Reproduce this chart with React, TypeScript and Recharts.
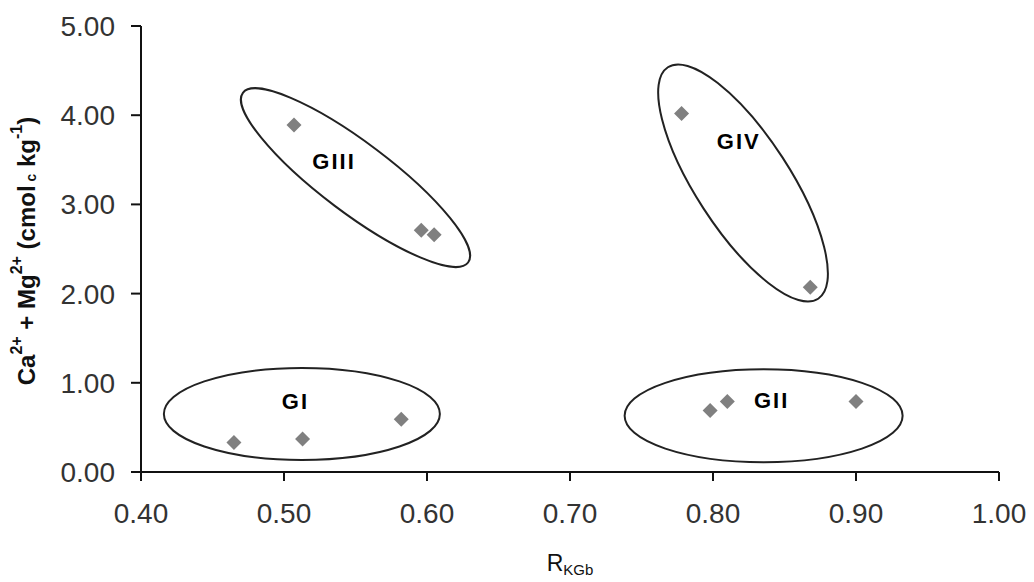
import { ScatterChart, Scatter, XAxis, YAxis, ReferenceDot } from "recharts";

// measured points: R_KGb vs Ca2+ + Mg2+
const rKGb = [0.465, 0.513, 0.582, 0.798, 0.81, 0.9, 0.507, 0.596, 0.605, 0.778, 0.868];
const caMg = [0.33, 0.37, 0.59, 0.69, 0.79, 0.79, 3.89, 2.71, 2.66, 4.02, 2.07];

const groupNames = ["GI", "GII", "GIII", "GIV"];
const groupCenterX = [0.5125, 0.8354, 0.55, 0.821];
const groupCenterY = [0.651, 0.631, 3.3, 3.24];
const groupLabelX = [0.508, 0.841, 0.535, 0.818];
const groupLabelY = [0.786, 0.805, 3.48, 3.7];

const xTicks = [0.4, 0.5, 0.6, 0.7, 0.8, 0.9, 1.0];
const yTicks = [0, 1, 2, 3, 4, 5];

// ring outlines (pixels) drawn round each group centre
const rings = [
  { rx: 138, ry: 46, angle: 0 },
  { rx: 139, ry: 46.5, angle: 0 },
  { rx: 141, ry: 35, angle: 37 },
  { rx: 138, ry: 47, angle: 57 },
];

const points = rKGb.map((x, i) => ({ x, y: caMg[i] }));

const FONT = "'Liberation Sans', Arial, sans-serif";

const Diamond = (props: any) => {
  const { cx, cy } = props;
  const h = 7.5;
  return (
    <polygon
      points={`${cx},${cy - h} ${cx + h},${cy} ${cx},${cy + h} ${cx - h},${cy}`}
      fill="#808080"
    />
  );
};

const YTitle = (props: any) => {
  const vb = props.viewBox || { x: 51, y: 26, width: 90, height: 446 };
  const cx = 26;
  const cy = vb.y + vb.height / 2 + 2;
  return (
    <text
      x={cx}
      y={cy}
      transform={`rotate(-90 ${cx} ${cy})`}
      textAnchor="middle"
      dominantBaseline="central"
      fontFamily={FONT}
      fontWeight="bold"
      fontSize={24}
      fill="#111"
    >
      Ca
      <tspan fontSize={16} dy={-10}>2+</tspan>
      <tspan dy={10}> + Mg</tspan>
      <tspan fontSize={16} dy={-10}>2+</tspan>
      <tspan dy={10}> (cmol</tspan>
      <tspan fontSize={14} dy={5}> c</tspan>
      <tspan dy={-5}> kg</tspan>
      <tspan fontSize={16} dy={-10}>-1</tspan>
      <tspan dy={10}>)</tspan>
    </text>
  );
};

const XTitle = (props: any) => {
  const vb = props.viewBox || { x: 141, y: 472, width: 858, height: 60 };
  const cx = vb.x + vb.width / 2;
  return (
    <text x={cx} y={571} textAnchor="middle" fontFamily={FONT} fontSize={23} fill="#111">
      R
      <tspan fontSize={15} dy={4}>KGb</tspan>
    </text>
  );
};

const App = () => {
  return (
    <div style={{ position: "absolute", left: 0, top: 0, background: "#fff" }}>
      <ScatterChart
        width={1034}
        height={582}
        margin={{ top: 26, right: 35, bottom: 50, left: 51 }}
      >
        <XAxis
          type="number"
          dataKey="x"
          domain={[0.4, 1.0]}
          ticks={xTicks}
          tickFormatter={(v: number) => v.toFixed(2)}
          height={60}
          tickSize={9}
          tickMargin={22}
          axisLine={{ stroke: "#111", strokeWidth: 2 }}
          tickLine={{ stroke: "#111", strokeWidth: 2 }}
          tick={{ fill: "#333", fontSize: 28, fontFamily: FONT }}
          label={<XTitle />}
        />
        <YAxis
          type="number"
          dataKey="y"
          domain={[0, 5]}
          ticks={yTicks}
          tickFormatter={(v: number) => v.toFixed(2)}
          width={90}
          tickSize={10}
          tickMargin={16}
          axisLine={{ stroke: "#111", strokeWidth: 2 }}
          tickLine={{ stroke: "#111", strokeWidth: 2 }}
          tick={{ fill: "#333", fontSize: 28, fontFamily: FONT }}
          label={<YTitle />}
        />
        {groupNames.map((name, i) => (
          <ReferenceDot
            key={`ring-${name}`}
            x={groupCenterX[i]}
            y={groupCenterY[i]}
            ifOverflow="visible"
            shape={(p: any) => (
              <ellipse
                cx={p.cx}
                cy={p.cy}
                rx={rings[i].rx}
                ry={rings[i].ry}
                transform={`rotate(${rings[i].angle} ${p.cx} ${p.cy})`}
                fill="none"
                stroke="#222"
                strokeWidth={2}
              />
            )}
          />
        ))}
        {groupNames.map((name, i) => (
          <ReferenceDot
            key={`label-${name}`}
            x={groupLabelX[i]}
            y={groupLabelY[i]}
            ifOverflow="visible"
            shape={(p: any) => (
              <text
                x={p.cx}
                y={p.cy}
                textAnchor="middle"
                dominantBaseline="central"
                fontFamily={FONT}
                fontWeight="bold"
                fontSize={22}
                letterSpacing={2}
                fill="#000"
              >
                {name}
              </text>
            )}
          />
        ))}
        <Scatter data={points} shape={<Diamond />} isAnimationActive={false} />
      </ScatterChart>
    </div>
  );
};

export default App;
